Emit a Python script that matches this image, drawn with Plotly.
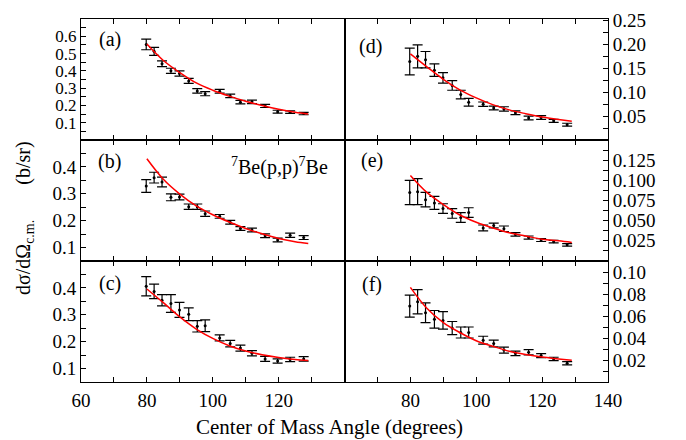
import plotly.graph_objects as go
from plotly.subplots import make_subplots

angles = [79.8, 82.2, 84.6, 87.3, 89.9, 92.7, 95.3, 97.7, 102.1, 105.3, 108.4, 111.9, 115.9, 119.7, 123.5, 127.6]

a_y = [0.553, 0.513, 0.441, 0.400, 0.385, 0.342, 0.284, 0.268, 0.282, 0.255, 0.219, 0.221, 0.197, 0.164, 0.161, 0.153]
a_err = [0.031, 0.023, 0.017, 0.015, 0.015, 0.014, 0.013, 0.012, 0.011, 0.010, 0.010, 0.010, 0.009, 0.008, 0.007, 0.007]
b_y = [0.329, 0.360, 0.344, 0.287, 0.288, 0.252, 0.252, 0.226, 0.216, 0.194, 0.171, 0.165, 0.144, 0.128, 0.146, 0.137]
b_err = [0.024, 0.020, 0.018, 0.013, 0.011, 0.010, 0.010, 0.010, 0.007, 0.007, 0.007, 0.007, 0.007, 0.007, 0.008, 0.007]
c_y = [0.406, 0.387, 0.354, 0.342, 0.318, 0.302, 0.257, 0.259, 0.214, 0.193, 0.176, 0.157, 0.136, 0.128, 0.134, 0.136]
c_err = [0.036, 0.027, 0.021, 0.033, 0.028, 0.024, 0.021, 0.022, 0.011, 0.012, 0.011, 0.010, 0.009, 0.008, 0.008, 0.008]
d_y = [0.164, 0.175, 0.168, 0.146, 0.130, 0.114, 0.095, 0.079, 0.075, 0.067, 0.065, 0.057, 0.046, 0.047, 0.040, 0.032]
d_err = [0.028, 0.024, 0.017, 0.013, 0.011, 0.010, 0.009, 0.008, 0.0045, 0.004, 0.0045, 0.004, 0.004, 0.004, 0.003, 0.003]
e_y = [0.085, 0.086, 0.076, 0.072, 0.065, 0.059, 0.054, 0.060, 0.041, 0.044, 0.040, 0.033, 0.029, 0.026, 0.024, 0.020]
e_err = [0.015, 0.016, 0.009, 0.008, 0.006, 0.006, 0.006, 0.006, 0.0036, 0.003, 0.0034, 0.0022, 0.002, 0.0018, 0.0016, 0.0016]
f_y = [0.069, 0.073, 0.063, 0.057, 0.056, 0.049, 0.045, 0.045, 0.038, 0.035, 0.029, 0.026, 0.027, 0.024, 0.021, 0.017]
f_err = [0.010, 0.011, 0.009, 0.008, 0.008, 0.006, 0.005, 0.005, 0.0036, 0.003, 0.0027, 0.002, 0.0024, 0.0018, 0.0015, 0.0015]

curve_angles = [80, 85, 90, 95, 100, 105, 110, 115, 120, 125, 129]
a_fit = [0.555, 0.460, 0.390, 0.330, 0.288, 0.254, 0.224, 0.199, 0.178, 0.161, 0.150]
b_fit = [0.430, 0.354, 0.299, 0.255, 0.222, 0.195, 0.171, 0.151, 0.134, 0.122, 0.115]
c_fit = [0.396, 0.345, 0.292, 0.247, 0.212, 0.185, 0.165, 0.151, 0.141, 0.134, 0.130]
d_fit = [0.180, 0.153, 0.127, 0.105, 0.088, 0.074, 0.063, 0.055, 0.048, 0.043, 0.039]
e_fit = [0.106, 0.085, 0.070, 0.057, 0.048, 0.041, 0.035, 0.031, 0.027, 0.025, 0.023]
f_fit = [0.086, 0.067, 0.054, 0.045, 0.0375, 0.0325, 0.028, 0.025, 0.0227, 0.021, 0.0197]

x_ticks = [60, 70, 80, 90, 100, 110, 120, 130, 140]
x_text_left = ["60", " ", "80", " ", "100", " ", "120", " ", " "]
x_text_right = [" ", " ", "80", " ", "100", " ", "120", " ", "140"]

panels = [
    # label, row, col, y, err, fit, yrange, tickvals, tickfmt, minor dtick
    ("(a)", 1, 1, a_y, a_err, a_fit, [0, 0.7], [0.1, 0.2, 0.3, 0.4, 0.5, 0.6], ".1f", 0.05),
    ("(d)", 1, 2, d_y, d_err, d_fit, [0, 0.253], [0.05, 0.10, 0.15, 0.20, 0.25], ".2f", 0.025),
    ("(b)", 2, 1, b_y, b_err, b_fit, [0.05, 0.5], [0.1, 0.2, 0.3, 0.4], ".1f", 0.05),
    ("(e)", 2, 2, e_y, e_err, e_fit, [0, 0.15], [0.025, 0.050, 0.075, 0.100, 0.125], ".3f", 0.0125),
    ("(c)", 3, 1, c_y, c_err, c_fit, [0.05, 0.5], [0.1, 0.2, 0.3, 0.4], ".1f", 0.05),
    ("(f)", 3, 2, f_y, f_err, f_fit, [0, 0.11], [0.02, 0.04, 0.06, 0.08, 0.10], ".2f", 0.01),
]

FONT = "Liberation Serif, Times New Roman, serif"

fig = make_subplots(rows=3, cols=2, horizontal_spacing=0, vertical_spacing=0)

label_pos = {"(a)": (0.11, 0.83), "(b)": (0.11, 0.82), "(c)": (0.11, 0.815),
             "(d)": (0.10, 0.775), "(e)": (0.105, 0.83), "(f)": (0.105, 0.806)}

for i, (lab, r, c, yv, ev, fv, yr, tv, fmt, mdt) in enumerate(panels):
    fig.add_trace(go.Scatter(
        x=angles, y=yv, mode="markers",
        marker=dict(color="black", size=3),
        error_y=dict(type="data", array=ev, visible=True, color="black", thickness=1.2, width=5),
        showlegend=False), row=r, col=c)
    fig.add_trace(go.Scatter(
        x=curve_angles, y=fv, mode="lines", line=dict(color="red", width=1.5, shape="spline"),
        showlegend=False), row=r, col=c)
    fig.update_xaxes(
        range=[60, 140], tickvals=x_ticks,
        ticktext=(x_text_left if c == 1 else x_text_right),
        showticklabels=(r == 3), ticks="inside", ticklen=5, tickwidth=1, tickcolor="black",
        showline=True, linecolor="black", linewidth=1, mirror="ticks", showgrid=False, zeroline=False,
        tickfont=dict(family=FONT, size=19, color="black"), ticklabelstandoff=1,
        row=r, col=c)
    fig.update_yaxes(
        range=yr, tickvals=tv, tickformat=fmt, side=("left" if c == 1 else "right"),
        ticks="inside", ticklen=5, tickwidth=1, tickcolor="black",
        minor=dict(dtick=mdt, tick0=0, ticks="inside", ticklen=5, tickwidth=1, tickcolor="black"),
        showline=True, linecolor="black", linewidth=1, mirror=True, showgrid=False, zeroline=False,
        tickfont=dict(family=FONT, size=(17 if i == 0 else 19), color="black"),
        row=r, col=c)
    ax = "" if i == 0 else str(i + 1)
    lx, ly = label_pos[lab]
    fig.add_annotation(text=lab, xref=f"x{ax} domain", yref=f"y{ax} domain", x=lx, y=ly,
                       xanchor="center", yanchor="middle",
                       showarrow=False, font=dict(family=FONT, size=20, color="black"))

fig.add_annotation(text="<sup>7</sup>Be(p,p)<sup>7</sup>Be", xref="x3 domain", yref="y3 domain",
                   x=0.755, y=0.78, xanchor="center", yanchor="middle",
                   showarrow=False, font=dict(family=FONT, size=20, color="black"))

fig.add_annotation(text="Center of Mass Angle (degrees)", xref="paper", yref="paper",
                   x=0.4706, y=-0.124, xanchor="center", yanchor="middle", showarrow=False,
                   font=dict(family=FONT, size=21, color="black"))

fig.add_annotation(text="dσ/dΩ<sub>c.m.</sub>\u00a0\u00a0\u00a0\u00a0\u00a0\u00a0\u00a0(b/sr)",
                   xref="paper", yref="paper",
                   x=-0.106, y=0.452, textangle=-90, xanchor="center", yanchor="middle",
                   showarrow=False, font=dict(family=FONT, size=20, color="black"))

fig.update_layout(width=686, height=440, margin=dict(l=81, r=78, t=10, b=58),
                  paper_bgcolor="white", plot_bgcolor="white")

fig.write_html("out.html")
